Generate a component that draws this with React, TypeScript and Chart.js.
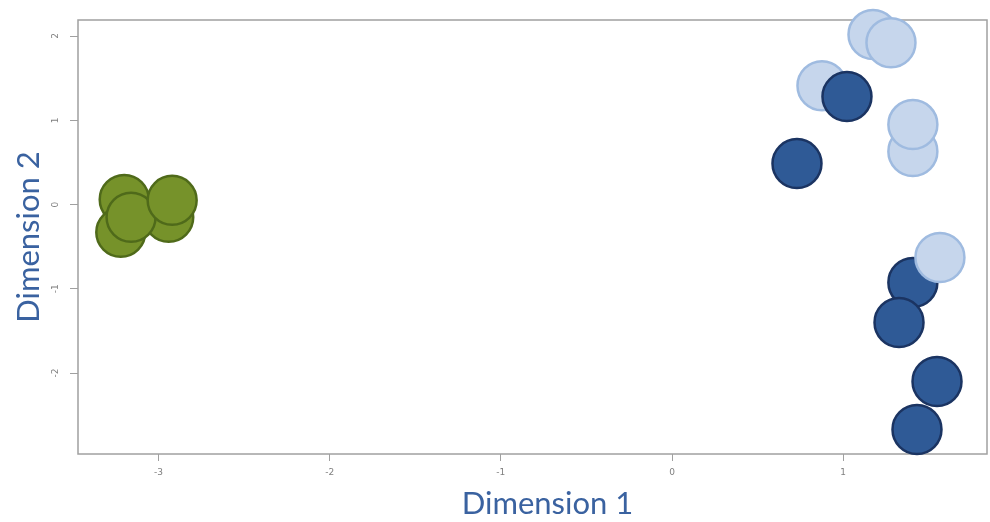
import React, { useEffect, useRef } from "react";
import { Chart, registerables } from "chart.js";

Chart.register(...registerables);

// Draw order = array order
const pointX = [-3.20, -3.22, -2.94, -3.16, -2.92, 0.876, 1.022, 1.174, 1.279, 1.407, 1.407, 0.73, 1.407, 1.565, 1.326, 1.548, 1.431];
const pointY = [0.06, -0.33, -0.15, -0.15, 0.05, 1.41, 1.281, 2.017, 1.92, 0.629, 0.949, 0.486, -0.925, -0.629, -1.40, -2.10, -2.67];
const pointGroup = ["green", "green", "green", "green", "green", "light", "dark", "light", "light", "light", "light", "dark", "dark", "light", "dark", "dark", "dark"];

const xTicks = [-3, -2, -1, 0, 1];
const yTicks = [-2, -1, 0, 1, 2];
const xTitle = "Dimension 1";
const yTitle = "Dimension 2";

const fills: Record<string, string> = { green: "#76922a", light: "#c6d6ec", dark: "#2f5a96" };
const borders: Record<string, string> = { green: "#4f6a1a", light: "#9fbbe0", dark: "#1b3462" };

const framePlugin = {
  id: "frameAndYLabels",
  beforeDatasetsDraw(chart: any) {
    const { ctx, chartArea } = chart;
    ctx.save();
    ctx.strokeStyle = "#a0a0a0";
    ctx.lineWidth = 1.5;
    ctx.strokeRect(chartArea.left, chartArea.top, chartArea.right - chartArea.left, chartArea.bottom - chartArea.top);
    ctx.restore();
  },
  afterDraw(chart: any) {
    const { ctx, chartArea } = chart;
    ctx.save();
    const ys = chart.scales.y;
    ctx.fillStyle = "#808080";
    ctx.font = "9px 'DejaVu Sans'";
    ctx.textAlign = "center";
    ctx.textBaseline = "middle";
    yTicks.forEach((v) => {
      const py = ys.getPixelForValue(v);
      ctx.save();
      ctx.translate(56, py);
      ctx.rotate(-Math.PI / 2);
      ctx.fillText(String(v), 0, 0);
      ctx.restore();
    });
    ctx.fillStyle = "#3a62a0";
    ctx.font = "31px Lato";
    ctx.fillText(xTitle, (chartArea.left + chartArea.right) / 2 + 15, 504);
    ctx.restore();
  },
};

export default function App() {
  const ref = useRef<HTMLCanvasElement>(null);
  useEffect(() => {
    if (!ref.current) return;
    const data = pointX.map((x, i) => ({ x, y: pointY[i] }));
    const chart = new Chart(ref.current, {
      type: "scatter",
      data: {
        datasets: [
          {
            data,
            clip: false,
            pointRadius: 24.5,
            pointHoverRadius: 24.5,
            borderWidth: 2.5,
            backgroundColor: pointGroup.map((g) => fills[g]),
            borderColor: pointGroup.map((g) => borders[g]),
          },
        ],
      },
      plugins: [framePlugin],
      options: {
        animation: false,
        responsive: false,
        maintainAspectRatio: false,
        layout: { autoPadding: false, padding: { left: 0, top: 20, right: 3, bottom: 0 } },
        plugins: { legend: { display: false }, tooltip: { enabled: false } },
        scales: {
          x: {
            type: "linear",
            min: -3.47,
            max: 1.84,
            afterFit: (s: any) => { s.height = 68; },
            afterBuildTicks: (s: any) => { s.ticks = xTicks.map((v) => ({ value: v })); },
            ticks: { color: "#808080", font: { size: 9, family: "'DejaVu Sans'" }, padding: 6, maxRotation: 0, callback: (v: any) => String(v) },
            grid: { display: true, drawOnChartArea: false, drawTicks: true, tickLength: 7, color: "#a0a0a0", lineWidth: 1 },
            border: { display: false },
            title: { display: false, text: xTitle },
          },
          y: {
            type: "linear",
            min: -2.96,
            max: 2.19,
            afterFit: (s: any) => { s.width = 78; },
            afterBuildTicks: (s: any) => { s.ticks = yTicks.map((v) => ({ value: v })); },
            ticks: { display: true, color: "rgba(0,0,0,0)", font: { size: 9 } },
            grid: { display: true, drawOnChartArea: false, drawTicks: true, tickLength: 8, color: "#a0a0a0", lineWidth: 1 },
            border: { display: false },
            title: { display: true, text: yTitle, color: "#3a62a0", font: { size: 31, family: "Lato" }, padding: { top: 10, bottom: 0 } },
          },
        },
      },
    });
    return () => chart.destroy();
  }, []);
  return (
    <div style={{ position: "absolute", left: 0, top: 0, width: 990, height: 522, background: "#fff" }}>
      <canvas ref={ref} width={990} height={522} style={{ width: 990, height: 522 }} />
    </div>
  );
}
